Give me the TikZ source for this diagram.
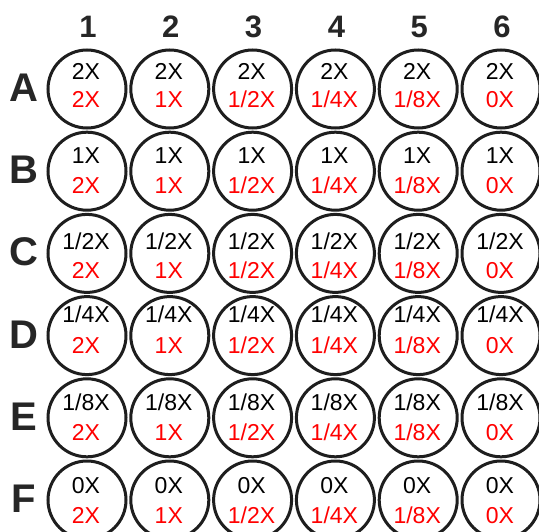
\documentclass[tikz,border=0pt]{standalone}
\usepackage{fontspec}
\setmainfont{Liberation Sans}
\definecolor{wellline}{HTML}{1E1E1E}
\definecolor{headgray}{HTML}{262626}
\definecolor{concred}{HTML}{FF0000}
% concentration labels, indexed 1..6
\newcommand\concname[1]{\ifcase#1\or 2X\or 1X\or 1/2X\or 1/4X\or 1/8X\or 0X\fi}
\newcommand\rowletter[1]{\ifcase#1\or A\or B\or C\or D\or E\or F\fi}
% baseline offsets of the two labels inside each well, per row
\newcommand\topoff[1]{\ifcase#1\or -9.8\or -7.3\or -3.8\or -12.8\or -7.8\or -6.8\fi}
\newcommand\botoff[1]{\ifcase#1\or 18.2\or 22.7\or 25.2\or 17.7\or 22.2\or 23.2\fi}
\begin{document}
\begin{tikzpicture}[x=1bp,y=-1bp,
  well/.style={circle,draw=wellline,line width=3bp,minimum size=78bp,inner sep=0pt},
  toplabel/.style={anchor=base,inner sep=0pt,text=black,font=\fontsize{23bp}{25bp}\selectfont},
  botlabel/.style={anchor=base,inner sep=0pt,text=concred,font=\fontsize{23bp}{25bp}\selectfont},
  colhead/.style={anchor=base,inner sep=0pt,text=headgray,font=\fontsize{31bp}{33bp}\selectfont\bfseries},
  rowhead/.style={anchor=base,inner sep=0pt,text=headgray,font=\fontsize{40bp}{42bp}\selectfont\bfseries}]
\useasboundingbox (0,0) rectangle (539,532);
\clip (0,0) rectangle (539,532);
\fill[white] (0,0) rectangle (539,532);
% column numbers
\foreach \c in {1,...,6} {
  \pgfmathsetmacro\cx{87+82.8*(\c-1)}
  \node[colhead] (col-\c) at (\cx+1,38) {\c};
}
% row letters and wells
\foreach \r in {1,...,6} {
  \pgfmathsetmacro\ry{89+82.2*(\r-1)}
  \node[rowhead] (row-\r) at (24,\ry+12.5) {\rowletter{\r}};
  \foreach \c in {1,...,6} {
    \pgfmathsetmacro\cx{87+82.8*(\c-1)}
    \pgfmathsetmacro\ty{\ry+\topoff{\r}}
    \pgfmathsetmacro\by{\ry+\botoff{\r}}
    \node[well] (w-\r-\c) at (\cx,\ry) {};
    \node[toplabel] (t-\r-\c) at (\cx-1,\ty) {\concname{\r}};
    \node[botlabel] (b-\r-\c) at (\cx-1,\by) {\concname{\c}};
  }
}
\end{tikzpicture}
\end{document}
